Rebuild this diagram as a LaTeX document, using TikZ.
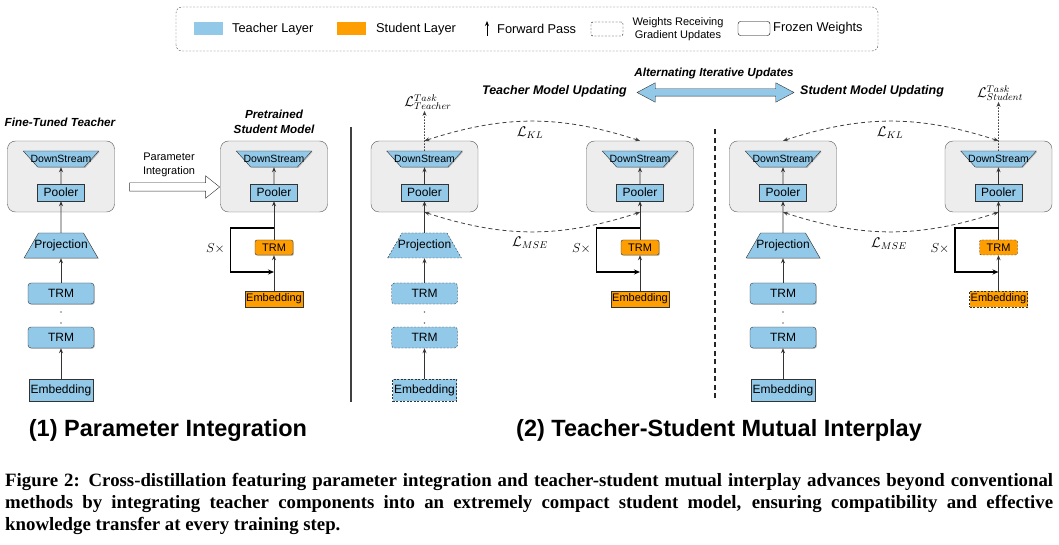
\documentclass[tikz,border=0pt]{standalone}
\usepackage{fix-cm}
\usepackage{fontspec}
\setsansfont{Liberation Sans}
\newfontfamily\capfont{Liberation Serif}
\usepackage{tikz}
\usetikzlibrary{arrows.meta, calc, shapes.geometric, shapes.arrows, shadows}

\definecolor{tblue}{RGB}{146,200,232}
\definecolor{sorange}{RGB}{255,158,0}
\newcommand{\fsz}[1]{\fontsize{#1}{#1}\selectfont}

\tikzset{
  fwd/.style={-{Stealth[length=5pt,width=4pt]}, black!80, line width=0.9},
  rec/.style={-{Stealth[length=6pt,width=5pt]}, black, line width=1.1},
  kl/.style={{Stealth[length=5pt,width=4pt]}-{Stealth[length=5pt,width=4pt]}, black!75, line width=0.8, dash pattern=on 4pt off 3pt},
  task/.style={-{Stealth[length=5pt,width=4pt]}, black!75, line width=0.9, dash pattern=on 1.5pt off 1.5pt},
  gbox/.style={draw=black!65, fill=black!7, rounded corners=8, minimum width=107, minimum height=71},
  frz/.style={solid, drop shadow={shadow xshift=0.9pt, shadow yshift=-0.9pt, opacity=0.45}},
  upd/.style={dash pattern=on 2pt off 1.5pt},
  tlayer/.style={draw=black!80, fill=tblue, inner sep=0, font=\sffamily\fsz{12}},
  slayer/.style={draw=black!80, fill=sorange, inner sep=0, font=\sffamily\fsz{11}},
  ds/.style={tlayer, trapezium, shape border rotate=180, trapezium angle=48, text height=7.4, text depth=0, inner ysep=4.3, inner xsep=-7, font=\sffamily\fsz{10.5}},
  proj/.style={tlayer, trapezium, trapezium angle=60, text height=8.8, text depth=2.5, inner ysep=6.85, inner xsep=-4.2},
  pooler/.style={tlayer, minimum width=47, minimum height=17},
  trm/.style={tlayer, rounded corners=3, minimum width=66, minimum height=21},
  emb/.style={tlayer, minimum width=64, minimum height=22},
  strm/.style={slayer, rounded corners=2, minimum width=38, minimum height=15},
  semb/.style={slayer, minimum width=58, minimum height=16},
  legtxt/.style={font=\sffamily\fsz{12.8}, inner sep=0},
  head/.style={font=\sffamily\bfseries\itshape\fontsize{11.7}{15}\selectfont, inner sep=0, align=center},
  lbl/.style={font=\fsz{14}, inner sep=0}
}

\begin{document}
\begin{tikzpicture}[x=1pt, y=1pt, font=\sffamily]
\useasboundingbox (0,0) rectangle (1059,544);

% legend
\draw[black!70, dash pattern=on 2pt off 1.5pt, rounded corners=6] (176,493) rectangle (878,537);
\node[fill=tblue, minimum width=29, minimum height=13, inner sep=0] (kT) at (208,515) {};
\node[legtxt, anchor=west] (kTt) at (232,515) {Teacher Layer};
\node[fill=sorange, minimum width=29, minimum height=13, inner sep=0] (kS) at (351,515) {};
\node[legtxt, anchor=west] (kSt) at (376,515) {Student Layer};
\coordinate (fa) at (487,508);
\coordinate (fb) at (487,523);
\draw[-{Stealth[length=5pt,width=4pt]}, line width=1] (fa) -- (fb);
\node[legtxt, anchor=west] (kFt) at (497,515) {Forward Pass};
\node[draw, upd, rounded corners=2, minimum width=32, minimum height=14, inner sep=0] (kU) at (607,515) {};
\node[font=\sffamily\fontsize{11}{13.5}\selectfont, align=center, inner sep=0] (kUt) at (678,515) {Weights Receiving\\Gradient Updates};
\node[draw, rounded corners=2.5, minimum width=32, minimum height=14, inner sep=0] (kF) at (754,515.5) {};
\node[legtxt, anchor=west] (kZt) at (773,515.5) {Frozen Weights};

% gray boxes with DownStream and Pooler
\foreach \i/\x in {1/61,2/274,3/424.5,4/640,5/783,6/998.5}{
  \node[gbox] (G\i) at (\x,367.5) {};
  \node[ds, frz] (D\i) at (\x,385) {DownStream};
  \node[pooler, frz] (P\i) at (\x,351.5) {Pooler};
  \draw[fwd] (P\i) -- (D\i);
}

% teacher columns
\foreach \i/\x/\s in {1/61/frz,3/424.5/upd,5/783/frz}{
  \node[proj, \s] (R\i) at (\x,298.5) {Projection};
  \node[trm, \s] (A\i) at (\x,250.5) {TRM};
  \node[trm, \s] (B\i) at (\x,206.5) {TRM};
  \node[emb, \s] (E\i) at (\x,154) {Embedding};
  \fill[black!55] (\x,232) circle (0.8);
  \fill[black!55] (\x,221) circle (0.8);
  \draw[fwd] (E\i) -- (B\i);
  \draw[fwd] (A\i) -- (R\i);
  \draw[fwd] (R\i) -- (P\i);
}

% student columns
\foreach \i/\x/\s in {2/274/frz,4/640/frz,6/998.5/upd}{
  \node[strm, \s] (T\i) at (\x,296.5) {TRM};
  \node[semb, \s] (S\i) at (\x,245) {Embedding};
  \draw[fwd] (S\i) -- (T\i);
  \draw[fwd] (T\i) -- (P\i);
  \coordinate (U\i) at (\x,316);
  \coordinate (V\i) at (\x,272);
  \draw[rec] (U\i) -- ++(-43.5,0) |- (V\i);
  \node[anchor=east, font=\fsz{13}, inner sep=0] (X\i) at ({\x-49},295) {$S\times$};
}

% (1) parameter integration
\node[head] (hT) at (60,422) {Fine-Tuned Teacher};
\node[head] (hS) at (274,422.5) {Pretrained\\Student Model};
\node[font=\sffamily\fontsize{11}{14}\selectfont, align=center, inner sep=0] (piT) at (169,379) {Parameter\\Integration};
\node[single arrow, draw=black!80, fill=white, minimum height=90, minimum width=22, single arrow head extend=7, single arrow tip angle=77, inner sep=4] (PI) at (172,357) {};
\draw[black!75, line width=1.3] (351,142) -- (351,417);

% (2) mutual interplay
\node[head] (hA) at (714,471) {Alternating Iterative Updates};
\node[double arrow, draw=black!80, fill=tblue, minimum height=157, minimum width=19, double arrow head extend=6, double arrow tip angle=56, inner sep=3.5] (AI) at (715.5,451.5) {};
\node[head, font=\sffamily\bfseries\itshape\fsz{12.5}, anchor=east] (hTU) at (627,453) {Teacher Model Updating};
\node[head, font=\sffamily\bfseries\itshape\fsz{12.5}, anchor=west] (hSU) at (800,453) {Student Model Updating};
\draw[black!85, line width=1.6, dash pattern=on 5pt off 3.5pt] (715,146) -- (715,417);

\node[lbl] (TT) at (428,442) {$\mathcal{L}^{Task}_{Teacher}$};
\node[lbl] (TS) at (1000,451) {$\mathcal{L}^{Task}_{Student}$};
\draw[task] (D3) -- ([yshift=-1]D3 |- TT.south);
\draw[task] (D6) -- ([yshift=-1]D6 |- TS.south);

\draw[kl] (G3.north) to[bend left=18] (G4.north);
\draw[kl] (G3.south) to[bend right=18] (G4.south);
\draw[kl] (G5.north) to[bend left=18] (G6.north);
\draw[kl] (G5.south) to[bend right=18] (G6.south);
\node[lbl] (KL1) at (530,411) {$\mathcal{L}_{KL}$};
\node[lbl] (MS1) at (530,301) {$\mathcal{L}_{MSE}$};
\node[lbl] (KL2) at (890,411) {$\mathcal{L}_{KL}$};
\node[lbl] (MS2) at (889,300) {$\mathcal{L}_{MSE}$};

% titles and caption
\node[font=\sffamily\bfseries\fsz{23.5}, inner sep=0] (t1) at (168,114) {(1) Parameter Integration};
\node[font=\sffamily\bfseries\fsz{23.5}, inner sep=0] (t2) at (719,114) {(2) Teacher-Student Mutual Interplay};
\node[anchor=north west, inner sep=0, text width=1048, align=justify, font=\capfont\bfseries\fontsize{18.8}{22}\selectfont] (cap) at (5,71) {Figure 2: Cross-distillation featuring parameter integration and teacher-student mutual interplay advances beyond conventional\linebreak methods by integrating teacher components into an extremely compact student model, ensuring compatibility and effective\linebreak knowledge transfer at every training step.};
\end{tikzpicture}
\end{document}
